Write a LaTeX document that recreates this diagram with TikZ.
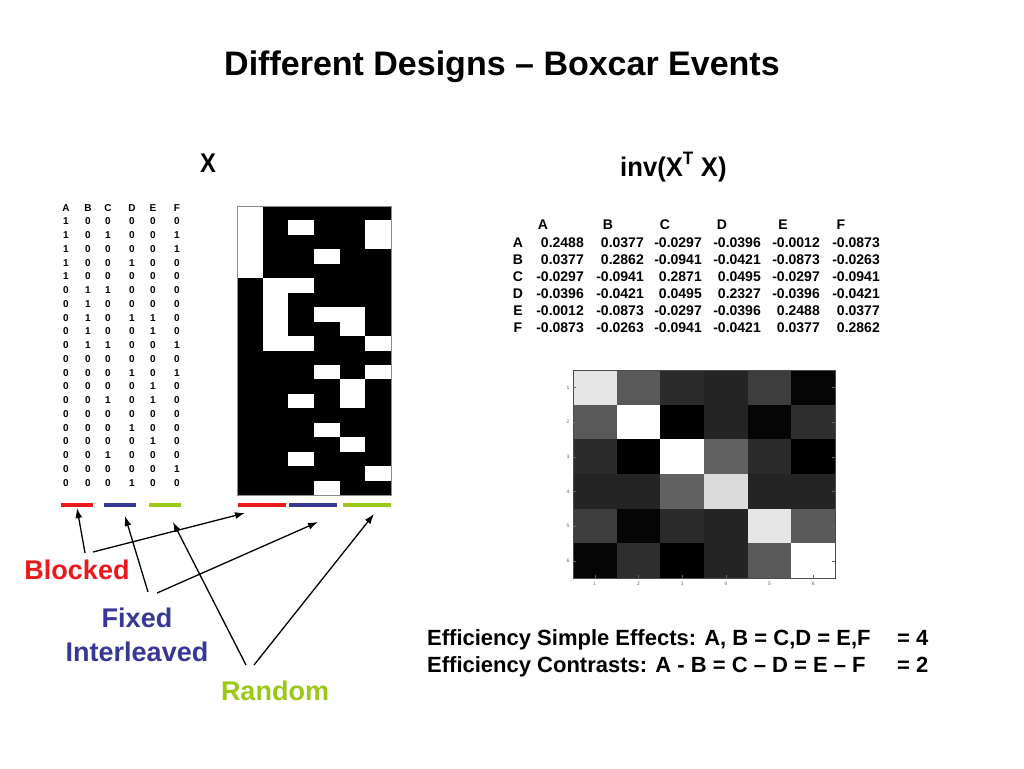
\documentclass[tikz,border=0pt]{standalone}
\usepackage{fontspec}
\setmainfont{Liberation Sans}
\usepackage{graphicx}
\usetikzlibrary{arrows.meta}
\definecolor{cred}{RGB}{235,25,25}
\definecolor{cblue}{RGB}{55,55,150}
\definecolor{cgreen}{RGB}{155,200,20}
\begin{document}
\begin{tikzpicture}[x=1pt,y=-1pt,
  ftitle/.style={font=\fontsize{34}{40}\selectfont\bfseries, inner sep=0},
  fhead/.style={font=\fontsize{27}{30}\selectfont\bfseries, inner sep=0},
  num/.style={font=\fontsize{10}{10}\selectfont\bfseries, inner sep=0},
  tab/.style={font=\fontsize{14}{15}\selectfont\bfseries, inner sep=0},
  lab/.style={font=\fontsize{27}{34}\selectfont\bfseries, inner sep=0, align=center},
  eff/.style={font=\fontsize{22}{26}\selectfont\bfseries, inner sep=0},
  arr/.style={-{Latex[length=10pt,width=7pt]}, line width=1.3pt},
  bar/.style={line width=4pt},
  tick/.style={font=\fontsize{5}{5}\selectfont, text=black!60, inner sep=0}]
\useasboundingbox[fill=white] (0,0) rectangle (1024,768);

% title and headings
\node[ftitle, anchor=base] (title) at (502,75) {Different Designs -- Boxcar Events};
\node[fhead, anchor=base] (xlab) at (208,172) {\scalebox{0.88}[1]{X}};
\node[fhead, anchor=base west] (invlab) at (620,176) {\scalebox{0.95}[1]{inv(X\raisebox{12pt}{\fontsize{18}{18}\selectfont T}\hspace{8pt}X)}};

% left numeric design matrix and its image
\foreach \h [count=\j] in {A,B,C,D,E,F} {
  \pgfmathsetmacro\cx{{66,88,108,132,153,177}[\j-1]}
  \node[num] (h-\j) at (\cx,208) {\h};
}
\fill[black] (237,206) rectangle (391,495);
\foreach \r [count=\i] in {{1,0,0,0,0,0},{1,0,1,0,0,1},{1,0,0,0,0,1},{1,0,0,1,0,0},{1,0,0,0,0,0},
  {0,1,1,0,0,0},{0,1,0,0,0,0},{0,1,0,1,1,0},{0,1,0,0,1,0},{0,1,1,0,0,1},
  {0,0,0,0,0,0},{0,0,0,1,0,1},{0,0,0,0,1,0},{0,0,1,0,1,0},{0,0,0,0,0,0},
  {0,0,0,1,0,0},{0,0,0,0,1,0},{0,0,1,0,0,0},{0,0,0,0,0,1},{0,0,0,1,0,0}} {
  \foreach \v [count=\j] in \r {
    \pgfmathsetmacro\cx{{66,88,108,132,153,177}[\j-1]}
    \node[num] (n-\i-\j) at ({\cx},{221.5+(\i-1)*13.74}) {\v};
    \ifnum\v=1
      \fill[white] ({237+(\j-1)*25.667},{206+(\i-1)*14.45}) rectangle ++(25.667,14.45);
    \fi
  }
}
\draw[black!45, line width=0.5pt] (237,206) rectangle (391,495);

% coloured bars
\draw[bar, cred]   (61,505) -- (93,505);
\draw[bar, cblue]  (104,505) -- (136,505);
\draw[bar, cgreen] (149,505) -- (181,505);
\draw[bar, cred]   (238,505) -- (286,505);
\draw[bar, cblue]  (289,505) -- (337,505);
\draw[bar, cgreen] (343,505) -- (391,505);

% labels
\node[lab, text=cred] (blocked) at (77,570) {Blocked};
\node[lab, text=cblue] (fixed) at (137,635) {Fixed\\Interleaved};
\node[lab, text=cgreen] (random) at (275,691) {Random};

% arrow ends
\coordinate (bs1) at (85,553);  \coordinate (be1) at (77,508);
\coordinate (bs2) at (93,552);  \coordinate (be2) at (245,513);
\coordinate (fs1) at (148,592); \coordinate (fe1) at (125,516);
\coordinate (fs2) at (157,593); \coordinate (fe2) at (318,522);
\coordinate (rs1) at (246,665); \coordinate (re1) at (173,522);
\coordinate (rs2) at (254,665); \coordinate (re2) at (374,514);
\draw[arr] (bs1) -- (be1);
\draw[arr] (bs2) -- (be2);
\draw[arr] (fs1) -- (fe1);
\draw[arr] (fs2) -- (fe2);
\draw[arr] (rs1) -- (re1);
\draw[arr] (rs2) -- (re2);

% inverse matrix table and image
\foreach \h [count=\j] in {A,B,C,D,E,F} {
  \pgfmathsetmacro\hx{{543,608,665,722,783,841}[\j-1]}
  \node[tab] (th-\j) at (\hx,225) {\h};
  \node[tab] (tr-\j) at (518,{243+(\j-1)*17}) {\h};
}
\foreach \r [count=\i] in {{0.2488,0.0377,-0.0297,-0.0396,-0.0012,-0.0873},
  {0.0377,0.2862,-0.0941,-0.0421,-0.0873,-0.0263},
  {-0.0297,-0.0941,0.2871,0.0495,-0.0297,-0.0941},
  {-0.0396,-0.0421,0.0495,0.2327,-0.0396,-0.0421},
  {-0.0012,-0.0873,-0.0297,-0.0396,0.2488,0.0377},
  {-0.0873,-0.0263,-0.0941,-0.0421,0.0377,0.2862}} {
  \foreach \v [count=\j] in \r {
    \pgfmathsetmacro\tx{{584,644,702,761,820,880}[\j-1]}
    \node[tab, anchor=east] (t-\i-\j) at ({\tx},{243+(\i-1)*17}) {\v};
    \pgfmathtruncatemacro\p{round((\v+0.0941)/0.3812*100)}
    \fill[white!\p!black] ({573+(\j-1)*43.667},{370+(\i-1)*34.667}) rectangle ++(43.667,34.667);
  }
}
\draw[line width=0.4pt, black!70] (573,370) rectangle (835,578);
\foreach \k in {1,...,6} {
  \draw[black!60, line width=0.4pt] (573,{352.7+\k*34.667}) -- ++(3,0);
  \draw[black!60, line width=0.4pt] (835,{352.7+\k*34.667}) -- ++(-3,0);
  \draw[black!60, line width=0.4pt] ({551.2+\k*43.667},578) -- ++(0,-3);
  \node[tick] (yl-\k) at (568,{352.7+\k*34.667}) {\k};
  \node[tick] (xl-\k) at ({551.2+\k*43.667},584) {\k};
}

% efficiency text
\node[eff, anchor=base west] (eff1) at (427,645) {Efficiency Simple Effects: A, B = C,D = E,F};
\node[eff, anchor=base west] (eq1) at (897,645) {= 4};
\node[eff, anchor=base west] (eff2) at (427,672) {Efficiency Contrasts: A - B = C -- D = E -- F};
\node[eff, anchor=base west] (eq2) at (897,672) {= 2};
\end{tikzpicture}
\end{document}
